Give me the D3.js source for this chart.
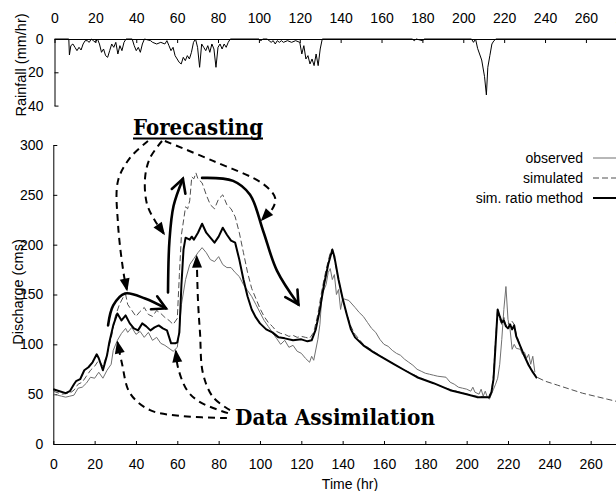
<!DOCTYPE html>
<html>
<head>
<meta charset="utf-8">
<script src="https://cdn.jsdelivr.net/npm/d3@7"></script>
<style>
  body { margin: 0; background: #fff; }
</style>
</head>
<body>
<div id="chart"></div>
<script>
// ticks
var timeTicks = d3.range(0, 281, 20);
var dischargeTicks = [0, 50, 100, 150, 200, 250, 300];
var rainTicks = [0, 20, 40];

// hourly rainfall, [hour, mm/hr]
var rainfall = [[0,0],[7,0],[7.3,9.6],[8,4],[9,3],[10,5],[11,7],[12,5],[13,6.6],[14,3],[15,1],[16,1],[17,2],[18,0],[19,1],
  [20,2],[21,0],[22,3],[23,8],[24,6],[25,10],[26,11],[27,7],[28,3],[29,5],[30,2],[31,9],[32,4],[33,7],[34,2],[35,0],
  [38,0],[39,4],[40,7],[41,5],[42,8],[43,3],[44,0],[47,1],[48,2],[50,3],[52,2],[54,3],[55,1],[56,4],[57,7],[58,5],
  [59,10],[60,12],[61,14],[62,15],[63,11],[64,13],[65,10],[66,12],[67,8],[68,2],[69,0],[70,5],[71,17],[72,3],[73,5],
  [74,7],[75,4],[76,8],[77,3],[78,6],[79,17],[80,5],[81,3],[82,6],[83,3],[84,5],[85,2],[86,0],[100,0],[101,1],[102,0],
  [104,0],[105,1],[106,2],[107,1],[108,3],[109,1],[110,2],[111,1],[112,2],[114,1],[116,2],[118,1],[120,2],[121,9],
  [122,4],[123,12],[124,10],[125,15],[126,12],[127,16],[128,9],[129,16],[130,6],[131,0],[175,0],[176,1],[177,0],
  [180,1],[181,0],[204,0],[205,2],[206,0],[207,5.6],[209,12.6],[210.4,22.6],[211.3,33.6],[212,17],[213,10],[214,3],
  [215,1],[216,0],[280,0]];

// discharge, [hour, cms]
var observed = [[0,50],[2,49],[4,48],[6,47],[8,48],[10,49],[12,56],[14,57],[16,61],[18,67],[20,66],[22,72],[24,66],
  [26,74],[28,80],[29,94],[31,104],[33,111],[35,116],[36,112],[38,117],[40,110],[42,113],[44,107],[46,112],[48,104],
  [50,107],[52,101],[54,99],[56,96],[58,93],[60,97],[61,115],[62,140],[64,165],[66,180],[68,186],[70,192],[72,197],
  [74,192],[76,185],[78,183],[80,188],[82,180],[84,177],[86,177],[88,172],[90,168],[92,160],[94,154],[96,148],
  [98,140],[100,132],[102,124],[104,118],[106,112],[108,106],[110,100],[112,104],[114,97],[116,99],[118,93],
  [120,91],[122,86],[124,82],[125,88],[126,84],[128,105],[129,120],[130,150],[132,160],[133,172],[134,176],
  [135,165],[136,170],[137,150],[138,155],[139,135],[140,146],[143,144],[146,137],[148,132],[150,128],[152,122],
  [154,116],[156,112],[158,105],[160,100],[162,98],[164,94],[166,91],[168,89],[170,85],[172,82],[174,79],[176,75],
  [178,73],[180,71],[182,70],[184,69],[186,68],[190,67],[192,62],[194,60],[196,57],[198,56],[200,55],[202,53],
  [203,57],[204,52],[206,50],[207,55],[208,48],[209,53],[210,47],[211,45],[212,50],[213,55],[214,60],[215,66],
  [216,80],[217,105],[218,135],[219,158],[220,125],[221,115],[222,95],[223,100],[224,96],[226,95],[227,90],
  [228,92],[229,86],[230,90],[231,80],[232,88],[233,72]];

var simulated = [[0,53],[4,50],[8,51],[10,54],[12,60],[14,62],[16,68],[18,74],[20,78],[22,84],[24,78],[26,90],
  [28,106],[30,128],[32,140],[34,148],[35,150],[36,140],[38,134],[40,128],[42,133],[44,137],[46,130],[48,128],
  [50,134],[52,131],[54,127],[56,124],[58,120],[60,126],[61,170],[62,210],[64,238],[65,236],[66,244],[67,268],[68,266],
  [69,272],[70,266],[72,262],[74,250],[76,240],[78,236],[80,246],[82,250],[84,240],[86,236],[88,228],[90,212],
  [92,192],[94,172],[96,156],[98,146],[100,136],[102,128],[104,122],[106,118],[108,113],[110,111],[112,110],
  [114,108],[116,109],[118,107],[120,108],[122,107],[124,106],[126,112],[128,130],[130,155],[132,175],[134,192],
  [135,196],[136,185],[138,165],[140,145],[142,130],[144,118],[146,110],[150,100],[155,93],[160,86],[165,80],
  [170,74],[180,64],[190,56],[200,50],[205,48],[210,47],[212,52],[213,70],[214,105],[215,136],[216,125],[217,120],
  [218,127],[219,118],[220,122],[221,118],[222,123],[223,120],[224,110],[226,98],[228,88],[230,80],[232,73],
  [234,67],[238,63],[244,59],[250,55],[256,51],[262,48],[268,45],[274,42]];

var ratioMethod = [[0,55],[3,53],[6,51],[8,53],[10,60],[11,63],[13,65],[15,74],[17,77],[19,82],[21,90],[22,86],
  [24,74],[26,89],[27,101],[29,119],[31,131],[33,124],[35,129],[37,121],[39,116],[41,114],[43,121],[45,118],
  [47,114],[49,117],[51,119],[53,116],[55,114],[57,101],[59,101],[60,102],[61,112],[62,160],[63,195],[64,207],
  [66,205],[67,208],[68,205],[70,212],[72,221],[74,212],[76,207],[78,202],[80,208],[82,217],[84,210],[86,204],
  [88,202],[90,185],[92,165],[94,148],[96,135],[98,127],[100,121],[103,115],[106,112],[109,107],[112,106],
  [116,104],[120,105],[123,103],[125,104],[127,115],[129,135],[131,160],[133,180],[135,195],[136,188],[138,165],
  [140,146],[142,130],[144,115],[146,107],[150,99],[155,92],[160,86],[165,80],[170,74],[176,67],[184,61],[192,54],
  [200,50],[205,47],[211,47],[212,52],[213,65],[214,100],[215,135],[216,128],[217,122],[218,124],[219,118],
  [220,116],[221,120],[222,115],[223,119],[224,108],[226,98],[228,88],[230,79],[232,72],[234,66]];

var seriesNames = ["observed", "simulated", "sim. ratio method"];

// annotation arrows, in [hour, cms]
var solidArrows = [
  [[26.5,119],[29,139],[34.7,151],[44.4,146],[54.5,136]],
  [[55.5,152],[56.2,204],[58.2,239],[62.7,266]],
  [[72,267],[87,264],[95.2,250],[101.5,214],[108.2,174],[118.6,140]]
];
var dashedArrows = [
  [[45.8,304],[37.1,287],[31.3,264],[31.3,221],[34.2,169],[35.6,155]],
  [[52.6,304],[46.8,287],[44.4,267],[45.3,241],[49.2,224],[53.5,211]],
  [[54,304],[77.3,284],[101.5,261],[107.3,247],[106.3,237],[101,225]],
  [[84,26],[62.7,28],[46.8,34],[37.1,51],[33.2,81],[31.1,102]],
  [[84.5,31],[71,42],[64.7,54],[60.3,77],[59.3,93]],
  [[85.5,34],[77.3,47],[72.4,71],[71,111],[70,144],[69.4,188]]
];

var sansFont = "'Liberation Sans', Arial, sans-serif";
var serifFont = "'DejaVu Serif', serif";

// scales (the rainfall panel's time axis is a touch narrower)
var x = d3.scaleLinear().domain([0, 280]).range([53.3, 632]);
var xR = d3.scaleLinear().domain([0, 280]).range([54.5, 626.8]);
var yQ = d3.scaleLinear().domain([0, 300]).range([444, 145]);
var yR = d3.scaleLinear().domain([0, 40]).range([39, 105.6]);

var svg = d3.select("#chart").append("svg")
  .attr("width", 616)
  .attr("height", 491)
  .style("font-family", sansFont);

function styleAxis(g) {
  g.selectAll("path, line").attr("stroke", "#000");
  g.selectAll("text").attr("font-size", 14).attr("fill", "#000").style("font-family", sansFont);
}

// axes
svg.append("g")
  .attr("transform", "translate(0," + yQ(0) + ")")
  .call(d3.axisBottom(x).tickValues(timeTicks).tickSizeInner(-3).tickSizeOuter(0).tickPadding(15))
  .call(styleAxis);

svg.append("g")
  .attr("transform", "translate(0," + yR(0) + ")")
  .call(d3.axisTop(xR).tickValues(timeTicks).tickSizeInner(-4).tickSizeOuter(0).tickPadding(16))
  .call(styleAxis);

svg.append("g")
  .attr("transform", "translate(" + x(0) + ",0)")
  .call(d3.axisLeft(yQ).tickValues(dischargeTicks).tickSizeInner(-4).tickSizeOuter(0).tickPadding(10))
  .call(styleAxis);

svg.append("g")
  .attr("transform", "translate(" + xR(0) + ",0)")
  .call(d3.axisLeft(yR).tickValues(rainTicks).tickSizeInner(-4).tickSizeOuter(0).tickPadding(11))
  .call(styleAxis);

// axis titles
svg.append("text")
  .attr("transform", "translate(21,65) rotate(-90)")
  .attr("text-anchor", "middle").attr("dy", "0.35em")
  .attr("font-size", 14.5)
  .text("Rainfall (mm/hr)");

svg.append("text")
  .attr("transform", "translate(18,292) rotate(-90)")
  .attr("text-anchor", "middle").attr("dy", "0.35em")
  .attr("font-size", 14.5)
  .text("Discharge (cms)");

svg.append("text")
  .attr("x", 350).attr("y", 489)
  .attr("text-anchor", "middle")
  .attr("font-size", 14)
  .text("Time (hr)");

// rainfall
var rainLine = d3.line().x(d => xR(d[0])).y(d => yR(d[1]));
svg.append("path")
  .datum(rainfall)
  .attr("d", rainLine)
  .attr("fill", "none")
  .attr("stroke", "#000")
  .attr("stroke-width", 1);

// discharge
var qLine = d3.line().x(d => x(d[0])).y(d => yQ(d[1]));
var styles = [
  {data: observed, stroke: "#707070", width: 1, dash: null},
  {data: simulated, stroke: "#505050", width: 1, dash: "6,3"},
  {data: ratioMethod, stroke: "#000", width: 2, dash: null}
];
styles.forEach(function(s) {
  svg.append("path")
    .datum(s.data)
    .attr("d", qLine)
    .attr("fill", "none")
    .attr("stroke", s.stroke)
    .attr("stroke-width", s.width)
    .attr("stroke-dasharray", s.dash)
    .attr("stroke-linejoin", "round");
});

// legend
var legend = svg.append("g");
seriesNames.forEach(function(name, i) {
  var ly = 158 + i * 20;
  legend.append("text")
    .attr("x", 583).attr("y", ly).attr("dy", "0.35em")
    .attr("text-anchor", "end")
    .attr("font-size", 14)
    .text(name);
  legend.append("line")
    .attr("x1", 593).attr("x2", 632).attr("y1", ly).attr("y2", ly)
    .attr("stroke", styles[i].stroke)
    .attr("stroke-width", styles[i].width)
    .attr("stroke-dasharray", styles[i].dash);
});

// annotations
var annoLine = d3.line().curve(d3.curveCatmullRom.alpha(0.5))
  .x(d => x(d[0])).y(d => yQ(d[1]));

function endAngle(pts) {
  var a = pts[pts.length - 2], b = pts[pts.length - 1];
  return Math.atan2(yQ(b[1]) - yQ(a[1]), x(b[0]) - x(a[0]));
}

solidArrows.forEach(function(pts) {
  svg.append("path")
    .attr("d", annoLine(pts))
    .attr("fill", "none").attr("stroke", "#000")
    .attr("stroke-width", 2.6).attr("stroke-linecap", "round");
  var tip = pts[pts.length - 1], ang = endAngle(pts);
  var tx = x(tip[0]), ty = yQ(tip[1]), len = 15, spread = 0.5;
  svg.append("path")
    .attr("d", "M" + (tx - len * Math.cos(ang - spread)) + "," + (ty - len * Math.sin(ang - spread)) +
      "L" + tx + "," + ty +
      "L" + (tx - len * Math.cos(ang + spread)) + "," + (ty - len * Math.sin(ang + spread)))
    .attr("fill", "none").attr("stroke", "#000")
    .attr("stroke-width", 2.6).attr("stroke-linecap", "round").attr("stroke-linejoin", "miter");
});

dashedArrows.forEach(function(pts) {
  svg.append("path")
    .attr("d", annoLine(pts))
    .attr("fill", "none").attr("stroke", "#000")
    .attr("stroke-width", 2).attr("stroke-dasharray", "7,5");
  var tip = pts[pts.length - 1], ang = endAngle(pts);
  var tx = x(tip[0]), ty = yQ(tip[1]), len = 11, half = 5;
  var bx = tx - len * Math.cos(ang), by = ty - len * Math.sin(ang);
  svg.append("path")
    .attr("d", "M" + (tx + 2 * Math.cos(ang)) + "," + (ty + 2 * Math.sin(ang)) +
      "L" + (bx - half * Math.sin(ang)) + "," + (by + half * Math.cos(ang)) +
      "L" + (bx + half * Math.sin(ang)) + "," + (by - half * Math.cos(ang)) + "Z")
    .attr("fill", "#000");
});

svg.append("text")
  .attr("x", 133).attr("y", 135)
  .style("font-family", serifFont).attr("font-weight", "bold")
  .attr("font-size", 23)
  .attr("textLength", 130).attr("lengthAdjust", "spacingAndGlyphs")
  .text("Forecasting");
svg.append("line")
  .attr("x1", 133).attr("x2", 263).attr("y1", 138.5).attr("y2", 138.5)
  .attr("stroke", "#000").attr("stroke-width", 2);

svg.append("text")
  .attr("x", 235).attr("y", 425)
  .style("font-family", serifFont).attr("font-weight", "bold")
  .attr("font-size", 23)
  .attr("textLength", 200).attr("lengthAdjust", "spacingAndGlyphs")
  .text("Data Assimilation");
</script>
</body>
</html>
